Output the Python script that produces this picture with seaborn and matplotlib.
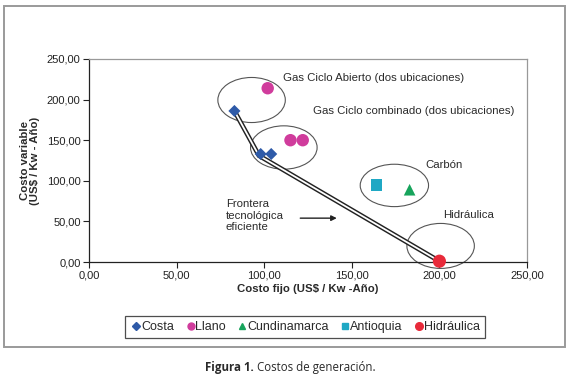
import matplotlib
matplotlib.use("Agg")
import matplotlib.pyplot as plt
import seaborn as sns
import pandas as pd
from matplotlib.patches import Ellipse, Rectangle
from matplotlib.ticker import FuncFormatter

# data
costa_x = [83, 98, 104]
costa_y = [186, 133, 133]
llano_x = [102, 115, 122]
llano_y = [214, 150, 150]
cund_x = [183]
cund_y = [89]
antioquia_x = [164]
antioquia_y = [95]
hidro_x = [200]
hidro_y = [1]

frontier_x = [83, 97, 200]
frontier_y = [186, 131, 1]

series = ["Costa", "Llano", "Cundinamarca", "Antioquia", "Hidráulica"]
colors = ["#2E5AA8", "#D03C9C", "#17A45C", "#1FA8C4", "#E82A3A"]
markers = ["D", "o", "^", "s", "o"]
sizes = [38, 80, 70, 70, 90]

df = pd.concat([
    pd.DataFrame({"x": costa_x, "y": costa_y, "serie": "Costa"}),
    pd.DataFrame({"x": llano_x, "y": llano_y, "serie": "Llano"}),
    pd.DataFrame({"x": cund_x, "y": cund_y, "serie": "Cundinamarca"}),
    pd.DataFrame({"x": antioquia_x, "y": antioquia_y, "serie": "Antioquia"}),
    pd.DataFrame({"x": hidro_x, "y": hidro_y, "serie": "Hidráulica"}),
])

sns.set_style("white")
plt.rcParams["font.family"] = ["Liberation Sans", "DejaVu Sans"]

fig = plt.figure(figsize=(5.71, 3.79), dpi=100)
ax = fig.add_axes([89 / 571, 1 - 262 / 379, 438 / 571, 203 / 379])

# frontera: double line
ax.plot(frontier_x, frontier_y, color="#222222", lw=3.4, zorder=2, solid_joinstyle="miter")
ax.plot(frontier_x, frontier_y, color="white", lw=1.3, zorder=2.1, solid_joinstyle="miter")

for name, c, m, s in zip(series, colors, markers, sizes):
    sub = df[df["serie"] == name]
    sns.scatterplot(data=sub, x="x", y="y", color=c, marker=m, s=s,
                    edgecolor="none", ax=ax, zorder=3, clip_on=False)

# ellipses
ell = [(92.8, 199.5, 38.5, 55.5), (111.2, 141, 38, 53.4),
       (174.3, 94.3, 39, 52.2), (200.7, 19.8, 38.5, 55.4)]
for cx, cy, w, h in ell:
    ax.add_patch(Ellipse((cx, cy), w, h, fill=False, edgecolor="#555555",
                         lw=0.8, zorder=1, clip_on=False))

fs = 8.2
tc = "#2a2a2a"
ax.text(111, 226, "Gas Ciclo Abierto (dos ubicaciones)", fontsize=fs, va="center", color=tc)
ax.text(127.7, 186, "Gas Ciclo combinado (dos ubicaciones)", fontsize=fs, va="center", color=tc)
ax.text(192, 119.5, "Carbón", fontsize=fs, va="center", color=tc)
ax.text(202.3, 58.3, "Hidráulica", fontsize=fs, va="center", color=tc)
ax.text(78, 57, "Frontera\ntecnológica\neficiente", fontsize=fs, va="center",
        linespacing=1.2, color=tc)
ax.annotate("", xy=(143, 54), xytext=(119, 54),
            arrowprops=dict(arrowstyle="-|>", color="#222222", lw=1, mutation_scale=8))

ax.set_xlim(0, 250)
ax.set_ylim(0, 250)
ax.set_xticks([0, 50, 100, 150, 200, 250])
ax.set_yticks([0, 50, 100, 150, 200, 250])
fmt = FuncFormatter(lambda v, p: f"{v:.2f}".replace(".", ","))
ax.xaxis.set_major_formatter(fmt)
ax.yaxis.set_major_formatter(fmt)
ax.tick_params(axis="both", direction="out", length=4, width=0.8, labelsize=8,
               colors="#222222", bottom=True, left=True, pad=2)
for side in ["left", "bottom"]:
    ax.spines[side].set_color("#222222")
    ax.spines[side].set_linewidth(0.9)
for side in ["top", "right"]:
    ax.spines[side].set_color("#999999")
    ax.spines[side].set_linewidth(0.9)

ax.set_xlabel("Costo fijo (US$ / Kw -Año)", fontsize=8.2, fontweight="bold", labelpad=3, color=tc)
ax.set_ylabel("Costo variable\n(US$ / Kw - Año)", fontsize=8.2, fontweight="bold", labelpad=5,
              color=tc, linespacing=1.0)

# legend
handles = [plt.Line2D([], [], marker=m, color=c, ls="none", markersize=ms)
           for c, m, ms in zip(colors, markers, [3.8, 5, 5, 5, 5.5])]
leg = fig.legend(handles, series, loc="center", bbox_to_anchor=(305 / 571, 1 - 327 / 379),
                 ncol=5, frameon=True, fancybox=False, fontsize=9, handletextpad=-0.1,
                 columnspacing=0.8, borderpad=0.4, handlelength=1.0)
leg.get_frame().set_edgecolor("#222222")
leg.get_frame().set_linewidth(0.9)
for t in leg.get_texts():
    t.set_color(tc)

# outer border
fig.patches.append(Rectangle((4 / 571, 1 - 347 / 379), 561 / 571, 341 / 379,
                             transform=fig.transFigure, fill=False,
                             edgecolor="#9a9a9a", lw=1.4))

fig.text(254 / 571, 1 - 367 / 379, "Figura 1.", fontsize=8.3, fontweight="bold",
         ha="right", va="center", family=["Open Sans", "DejaVu Sans"], color=tc)
fig.text(254 / 571, 1 - 367 / 379, " Costos de generación.", fontsize=8.3,
         ha="left", va="center", family=["Open Sans", "DejaVu Sans"], color=tc)

fig.savefig("out.png", dpi=100)
